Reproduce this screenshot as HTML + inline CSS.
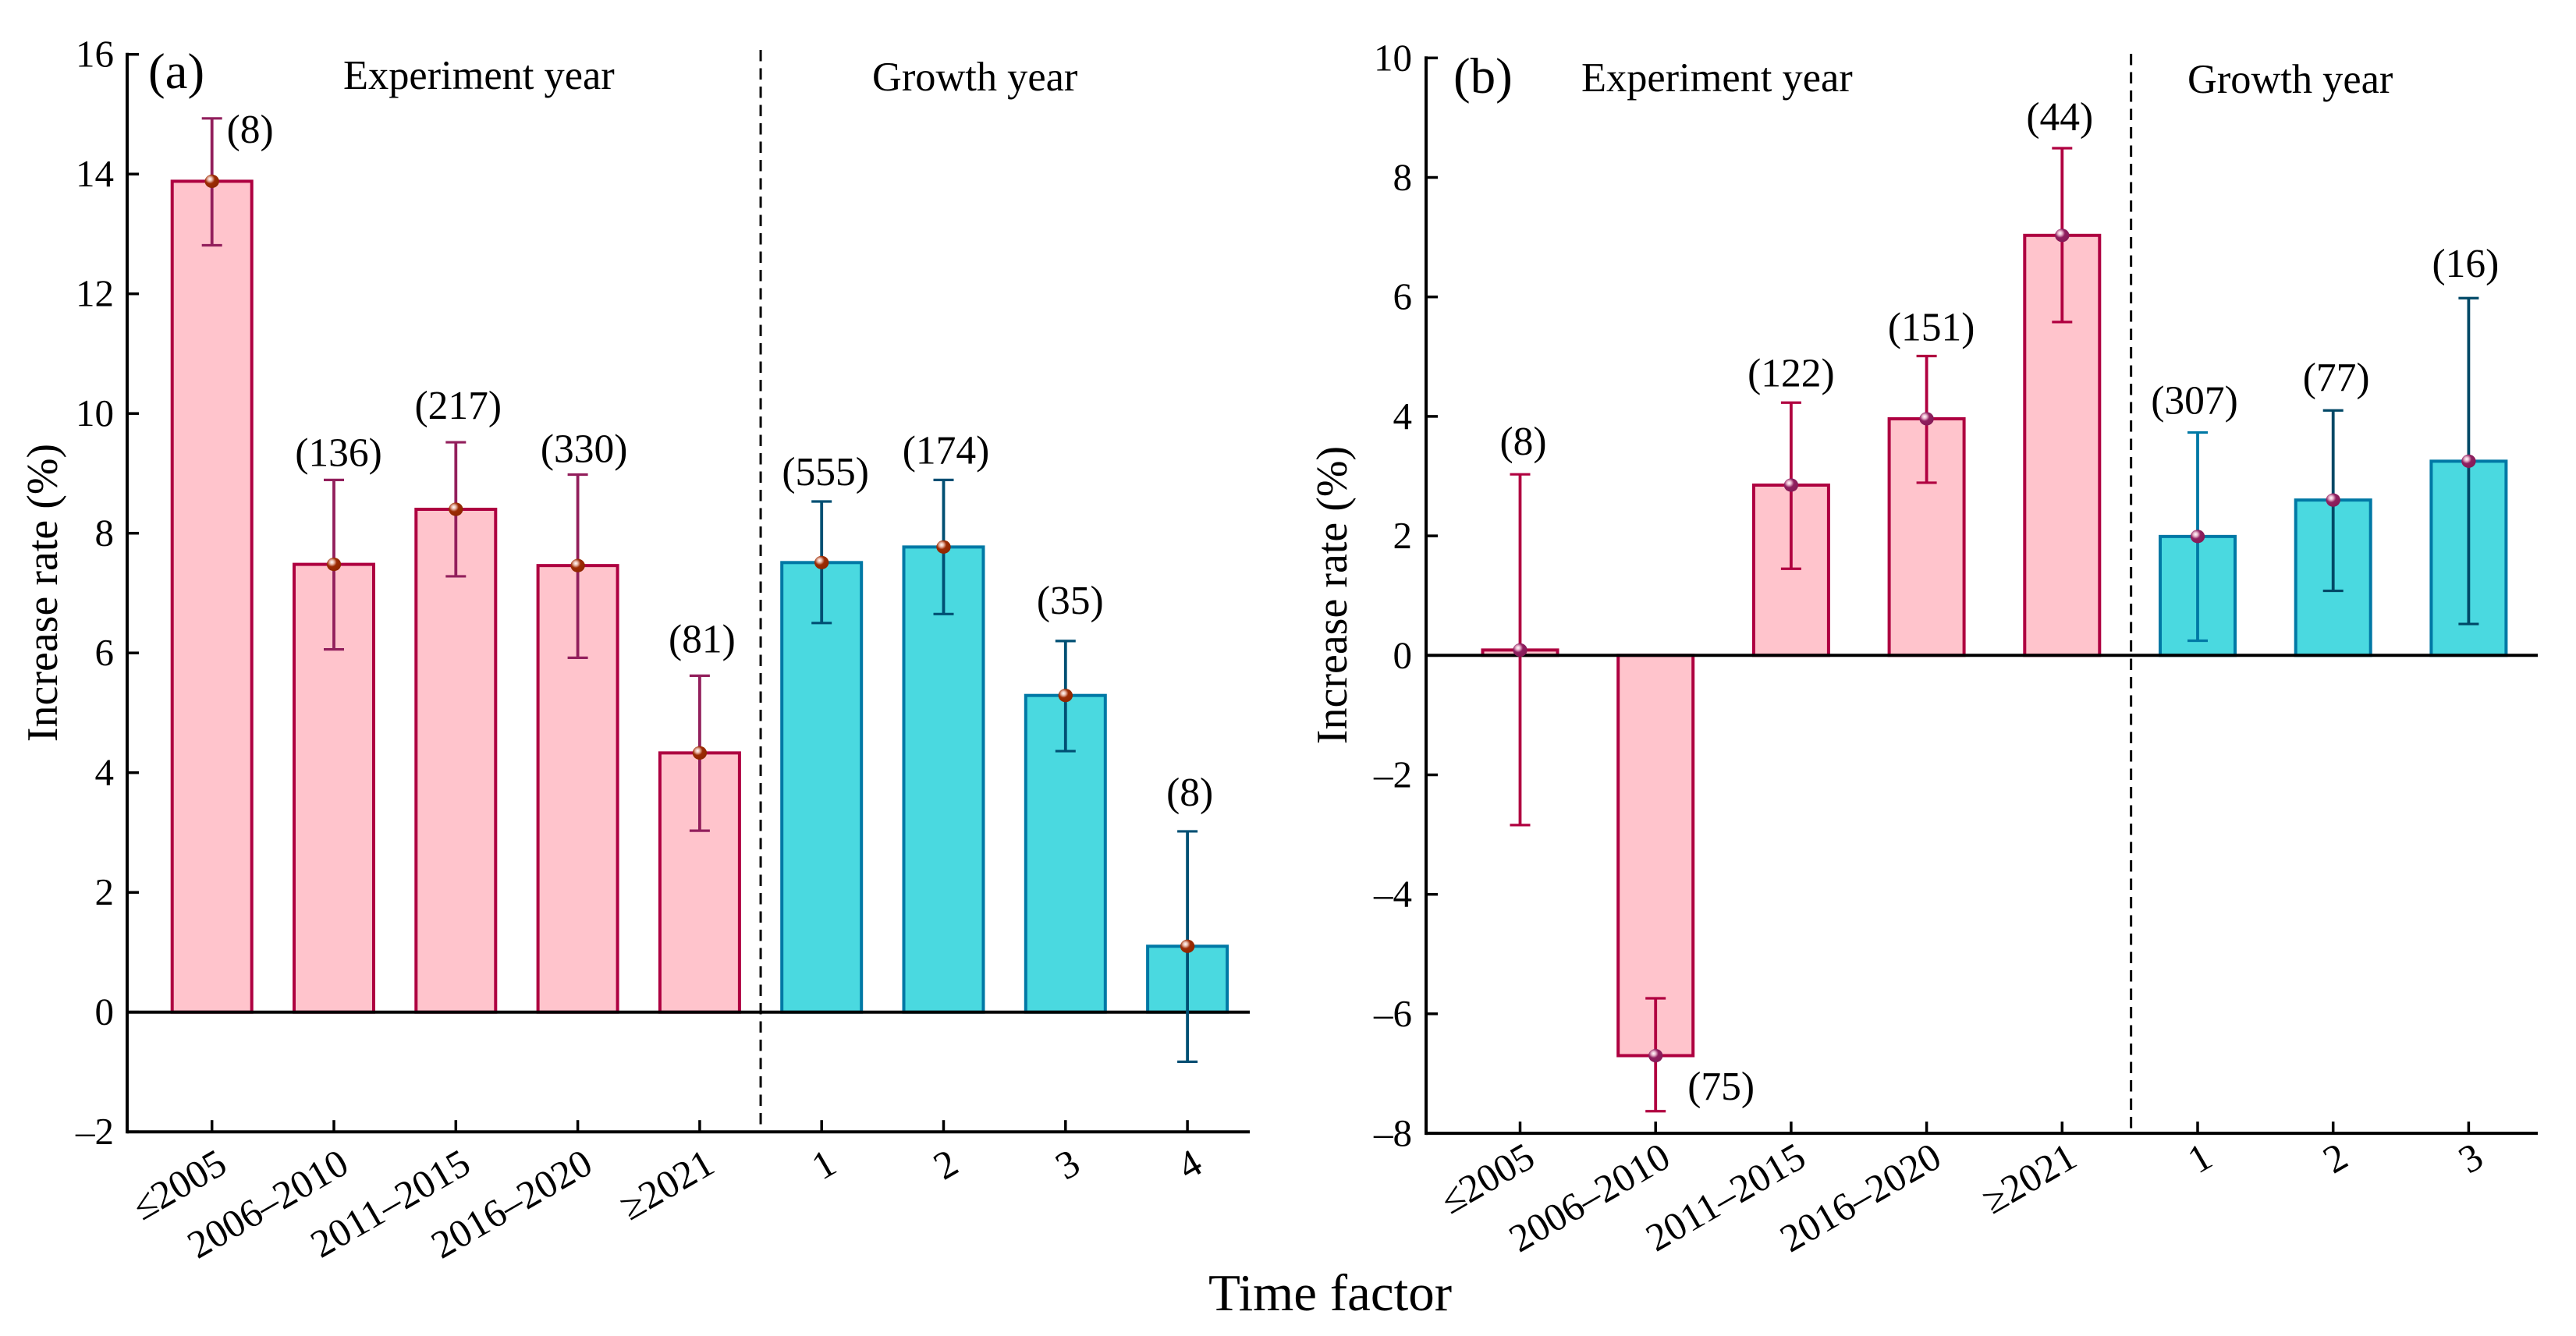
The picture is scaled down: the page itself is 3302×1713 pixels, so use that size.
<!DOCTYPE html>
<html lang="en">
<head>
<meta charset="utf-8">
<title>Increase rate by time factor</title>
<style>
html,body{margin:0;padding:0;background:#fff;width:3302px;height:1713px;overflow:hidden}
svg{display:block}
text{font-family:"Liberation Serif","DejaVu Serif",serif;fill:#000}
.tick{font-size:49px}
.xt{font-size:50.5px}
.cnt{font-size:51.5px}
.group{font-size:52.4px}
.letter{font-size:65px}
.ytitle{font-size:56px}
.xtitle{font-size:67px}
</style>
</head>
<body>
<svg id="chart" xmlns="http://www.w3.org/2000/svg" width="3302" height="1713" viewBox="0 0 3302 1713">
  <defs>
    <radialGradient id="dotA" cx="0.36" cy="0.34" r="0.7">
      <stop offset="0" stop-color="#ffffff"/><stop offset="0.22" stop-color="#e8b8a8"/><stop offset="0.48" stop-color="#9c2c04"/><stop offset="1" stop-color="#8e2600"/>
    </radialGradient>
    <radialGradient id="dotB" cx="0.36" cy="0.34" r="0.7">
      <stop offset="0" stop-color="#ffffff"/><stop offset="0.22" stop-color="#e8b4cc"/><stop offset="0.48" stop-color="#8f2060"/><stop offset="1" stop-color="#851a56"/>
    </radialGradient>
  </defs>
  <rect x="0" y="0" width="3302" height="1713" fill="#ffffff"/>
  <g id="panelA"></g>
  <g id="panelB"></g>

  <text class="letter" x="190" y="113">(a)</text>
  <text class="group" x="440" y="114">Experiment year</text>
  <text class="group" x="1118" y="116">Growth year</text>
  <text class="ytitle" text-anchor="middle" transform="translate(73 760) rotate(-90)">Increase rate (%)</text>

  <text class="letter" x="1863" y="119">(b)</text>
  <text class="group" x="2027" y="117">Experiment year</text>
  <text class="group" x="2804" y="119">Growth year</text>
  <text class="ytitle" text-anchor="middle" transform="translate(1726 763) rotate(-90)">Increase rate (%)</text>

  <text class="xtitle" x="1549" y="1680">Time factor</text>
</svg>
<script>
// Panel (a) data
const aCategories = ['≤2005','2006–2010','2011–2015','2016–2020','≥2021','1','2','3','4'];
const aGroups = ['exp','exp','exp','exp','exp','grow','grow','grow','grow'];
const aValues = [13.88,7.48,8.40,7.46,4.33,7.51,7.77,5.29,1.10];
const aUpper = [14.93,8.89,9.52,8.98,5.62,8.53,8.89,6.20,3.02];
const aLower = [12.81,6.06,7.28,5.92,3.03,6.50,6.65,4.36,-0.83];
const aCounts = ['(8)','(136)','(217)','(330)','(81)','(555)','(174)','(35)','(8)'];
const aYTicks = [-2,0,2,4,6,8,10,12,14,16];

// Panel (b) data
const bCategories = ['≤2005','2006–2010','2011–2015','2016–2020','≥2021','1','2','3'];
const bGroups = ['exp','exp','exp','exp','exp','grow','grow','grow'];
const bValues = [0.09,-6.70,2.85,3.96,7.03,1.99,2.60,3.25];
const bUpper = [3.03,-5.74,4.23,5.01,8.49,3.73,4.10,5.98];
const bLower = [-2.84,-7.63,1.45,2.89,5.58,0.245,1.08,0.525];
const bCounts = ['(8)','(75)','(122)','(151)','(44)','(307)','(77)','(16)'];
const bYTicks = [-8,-6,-4,-2,0,2,4,6,8,10];

// Annotation nudges relative to the top error cap (layout, not data)
const aCountNudgeX = [49,6,3,8,3,5,3,6,3];
const aCountNudgeY = [31,-18,-30,-16,-30,-21,-21,-35,-33];
const bCountNudgeX = [4,84,0,6,-3,-4,4,-4];
const bCountNudgeY = [-25,130,-21,-20,-23,-24,-25,-27];

const NS = 'http://www.w3.org/2000/svg';
function make(parent, tag, attrs, txt) {
  const el = document.createElementNS(NS, tag);
  for (const k in attrs) el.setAttribute(k, attrs[k]);
  if (txt !== undefined) el.textContent = txt;
  parent.appendChild(el);
  return el;
}
function fmtTick(v) { return v < 0 ? '–' + Math.abs(v) : String(v); }

function drawPanel(p) {
  const root = document.getElementById(p.id);
  const xS = i => p.x0 + p.step * i;
  const yS = v => p.yZero - p.unit * v;
  const axisCol = '#000';

  // bars
  p.values.forEach((v, i) => {
    const top = Math.min(yS(v), yS(0));
    const h = Math.abs(yS(v) - yS(0));
    const exp = p.groups[i] === 'exp';
    const el = make(root, 'rect', {
      x: xS(i) - p.barW / 2, y: top, width: p.barW, height: h,
      fill: exp ? '#ffc4cc' : '#4ad9e0',
      stroke: exp ? '#ae0040' : '#0078a5',
      'stroke-width': 4
    });
    
    
  });

  // axes
  const yAxis = make(root, 'line', {x1: p.axisX, x2: p.axisX, y1: yS(p.yTicks[p.yTicks.length - 1]) - 2, y2: yS(p.yTicks[0]) + 2, stroke: axisCol, 'stroke-width': 4});
  
  
  const xAxis = make(root, 'line', {x1: p.axisX, x2: p.axisEnd, y1: yS(p.yTicks[0]), y2: yS(p.yTicks[0]), stroke: axisCol, 'stroke-width': 4});
  
  
  const zero = make(root, 'line', {x1: p.axisX, x2: p.axisEnd, y1: yS(0), y2: yS(0), stroke: axisCol, 'stroke-width': 4});
  
  

  // y ticks
  p.yTicks.forEach(t => {
    const tick = make(root, 'line', {x1: p.axisX, x2: p.axisX + 15, y1: yS(t), y2: yS(t), stroke: axisCol, 'stroke-width': 3.5});
    
    
    const lab = make(root, 'text', {class: 'tick', x: p.yLabelX, y: yS(t) + 16, 'text-anchor': 'end'}, fmtTick(t));
    
    
  });

  // x ticks
  p.categories.forEach((c, i) => {
    const yb = yS(p.yTicks[0]);
    const tick = make(root, 'line', {x1: xS(i), x2: xS(i), y1: yb, y2: yb - 15, stroke: axisCol, 'stroke-width': 3.5});
    
    
    const lab = make(root, 'text', {class: 'xt', 'text-anchor': 'end', transform: 'translate(' + (xS(i) + p.xLabelDx) + ' ' + (yb + p.xLabelDy) + ') rotate(-30)'}, c);
    
    
  });

  // divider
  const dx = xS(p.split) + p.splitNudge;
  const div = make(root, 'line', {x1: dx, x2: dx, y1: p.divTop, y2: yS(p.yTicks[0]), stroke: '#000', 'stroke-width': 3, 'stroke-dasharray': '14.5 9'});
  
  

  // error bars, markers, counts
  p.values.forEach((v, i) => {
    const col = p.errColor(i);
    const x = xS(i);
    const stem = make(root, 'line', {x1: x, x2: x, y1: yS(p.upper[i]), y2: yS(p.lower[i]), stroke: col, 'stroke-width': 3.8});
    
    
    const capU = make(root, 'line', {x1: x - 13, x2: x + 13, y1: yS(p.upper[i]), y2: yS(p.upper[i]), stroke: col, 'stroke-width': 3.2});
    
    
    const capL = make(root, 'line', {x1: x - 13, x2: x + 13, y1: yS(p.lower[i]), y2: yS(p.lower[i]), stroke: col, 'stroke-width': 3.2});
    
    
    const dot = make(root, 'ellipse', {cx: x, cy: yS(v), rx: 9.2, ry: 8.6, fill: 'url(#' + p.dot + ')'});
    
    
    const cnt = make(root, 'text', {class: 'cnt', 'text-anchor': 'middle', x: x + p.nudgeX[i], y: yS(p.upper[i]) + p.nudgeY[i]}, p.counts[i]);
    
    
  });
}

drawPanel({
  id: 'panelA', x0: 271.7, step: 156.3, barW: 102, yZero: 1297.7, unit: 76.75,
  axisX: 163, axisEnd: 1602, yLabelX: 146, xLabelDx: 22, xLabelDy: 50,
  split: 4.5, splitNudge: 0, divTop: 64, dot: 'dotA',
  categories: aCategories, groups: aGroups, values: aValues, upper: aUpper, lower: aLower,
  counts: aCounts, yTicks: aYTicks, nudgeX: aCountNudgeX, nudgeY: aCountNudgeY,
  errColor: i => aGroups[i] === 'exp' ? '#921f5c' : '#004f73'
});
drawPanel({
  id: 'panelB', x0: 1948.5, step: 173.7, barW: 96, yZero: 840.3, unit: 76.6,
  axisX: 1828, axisEnd: 3253, yLabelX: 1810, xLabelDx: 22, xLabelDy: 40,
  split: 4.5, splitNudge: 1.5, divTop: 69, dot: 'dotB',
  categories: bCategories, groups: bGroups, values: bValues, upper: bUpper, lower: bLower,
  counts: bCounts, yTicks: bYTicks, nudgeX: bCountNudgeX, nudgeY: bCountNudgeY,
  errColor: i => bGroups[i] === 'exp' ? '#b00040' : (i === 5 ? '#0078a5' : '#004866')
});
</script>
</body>
</html>
